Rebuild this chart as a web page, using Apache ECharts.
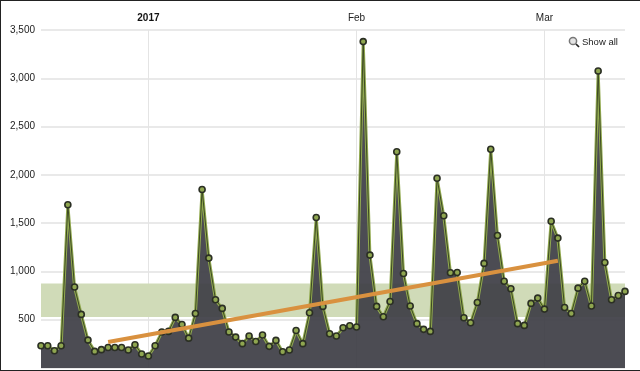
<!DOCTYPE html>
<html><head><meta charset="utf-8">
<style>html,body{margin:0;padding:0;background:#fff}#c{width:640px;height:371px}</style>
<script src="https://cdn.jsdelivr.net/npm/echarts@6/dist/echarts.min.js"></script>
</head><body><div id="c"></div>
<script>
const visits = [231,231,179,231,1690,838,555,289,172,190,213,213,213,186,241,145,124,231,373,379,524,451,309,565,1849,1138,707,617,373,320,252,331,275,342,224,286,169,186,389,252,572,1559,638,355,331,417,438,424,3380,1169,638,531,689,2240,979,642,459,400,379,1965,1576,986,989,521,469,679,1083,2265,1372,899,821,459,441,669,724,610,1520,1345,627,565,827,899,642,3075,1093,707,751,793];
const trendIndex = [10, 77];
const trendValues = [270, 1110];
const bandRange = [527, 876];
const yTicks = [500,1000,1500,2000,2500,3000,3500];
const monthLabels = {16:'2017',47:'Feb',75:'Mar'};

const categories = visits.map((_, i) => i);
const trend = visits.map((_, i) => i === trendIndex[0] ? trendValues[0] : i === trendIndex[1] ? trendValues[1] : null);
const font = '"Liberation Sans",Arial,sans-serif';
const chart = echarts.init(document.getElementById('c'), null, {renderer:'canvas'});
chart.setOption({
  animation:false,
  backgroundColor:'#fff',
  textStyle:{fontFamily:font},
  grid:{left:41,right:15,top:30,bottom:3,containLabel:false},
  xAxis:{type:'category',position:'top',boundaryGap:false,data:categories,
    axisLine:{show:false},axisTick:{show:false},
    axisLabel:{interval:0,margin:7,fontSize:10,color:'#222',
      formatter:v=>v==='16'||v===16?'{b|'+monthLabels[v]+'}':(monthLabels[v]||''),
      rich:{b:{fontWeight:'bold',fontSize:10,color:'#111'}}},
    splitLine:{show:true,interval:i=>monthLabels[i]!==undefined,lineStyle:{color:'#e4e4e4',width:1}}},
  yAxis:{type:'value',min:0,max:3500,interval:500,
    axisLine:{show:false},axisTick:{show:false},
    axisLabel:{margin:6,fontSize:10,color:'#222',
      formatter:v=>yTicks.includes(v)?v.toLocaleString('en-US'):''},
    splitLine:{lineStyle:{color:'#e2e2e2',width:1.5}}},
  series:[
    {type:'line',name:'Visits',data:visits,z:3,symbol:'none',
     lineStyle:{color:'#92aa50',width:3},
     areaStyle:{color:'#3e3e46',opacity:0.93},
     markArea:{silent:true,z:1,itemStyle:{color:'#d0dbb8',opacity:1},
       data:[[{yAxis:bandRange[0],xAxis:0},{yAxis:bandRange[1],xAxis:categories.length-1}]]}},
    {type:'line',name:'VisitsCore',data:visits,z:4,symbol:'circle',symbolSize:6,showSymbol:true,
     itemStyle:{color:'#8fa650',borderColor:'#2b2f24',borderWidth:1.6},
     lineStyle:{color:'#3d4a24',width:1}},
    {type:'line',name:'Trend',data:trend,connectNulls:true,z:6,symbol:'none',
     lineStyle:{color:'#d9913f',width:4,cap:'butt'}}
  ],
  graphic:[
    {type:'line',z:100,silent:true,shape:{x1:0,y1:0.5,x2:640,y2:0.5},style:{stroke:'#222',lineWidth:1}},
    {type:'line',z:100,silent:true,shape:{x1:0.5,y1:0,x2:0.5,y2:371},style:{stroke:'#222',lineWidth:1}},
    {type:'line',z:100,silent:true,shape:{x1:0,y1:370.5,x2:640,y2:370.5},style:{stroke:'#222',lineWidth:1}},
    {type:'circle',z:100,silent:true,shape:{cx:573,cy:41,r:3.6},style:{fill:'#e4e4e4',stroke:'#777',lineWidth:1.5}},
    {type:'line',z:100,silent:true,shape:{x1:576,y1:44,x2:579,y2:47},style:{stroke:'#222',lineWidth:1.7}},
    {type:'text',z:100,silent:true,x:582,y:37,style:{text:'Show all',fontSize:9.5,fill:'#222',fontFamily:font}}
  ]
});
</script></body></html>
